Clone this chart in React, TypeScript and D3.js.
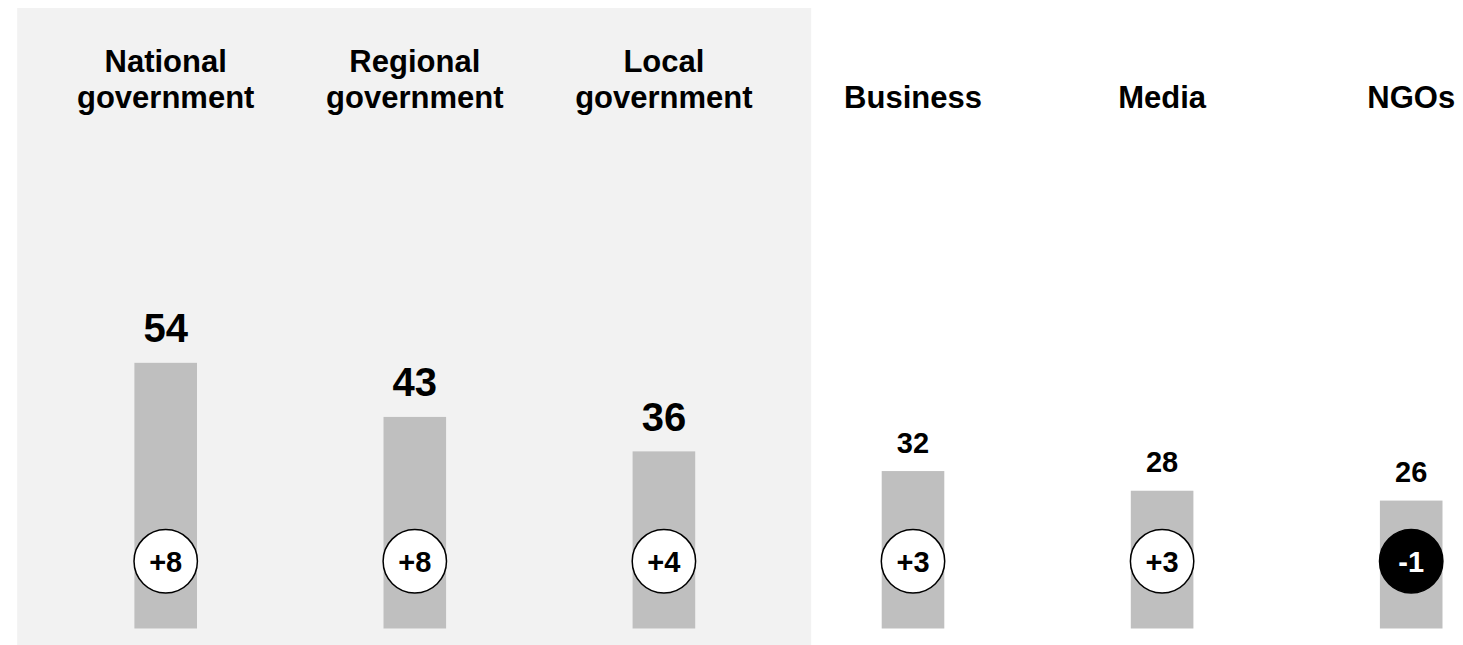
import React from "react";
import * as d3 from "d3";

const categories: string[][] = [
  ["National", "government"],
  ["Regional", "government"],
  ["Local", "government"],
  ["Business"],
  ["Media"],
  ["NGOs"],
];
const values: number[] = [54, 43, 36, 32, 28, 26];
const changes: number[] = [8, 8, 4, 3, 3, -1];
const highlighted: boolean[] = [true, true, true, false, false, false];

const W = 1463;
const H = 645;
const FONT = "'Liberation Sans', Arial, Helvetica, sans-serif";

export default function App() {
  const keys = categories.map((c) => c.join(" "));
  const x = d3.scalePoint<string>().domain(keys).range([165.7, 1411.2]);
  const y = d3.scaleLinear().domain([0, 100]).range([628.5, 136.5]);
  const barW = 62.6;
  const r = 31.7;
  const circleY = y(0) - 67.2;

  const hlKeys = keys.filter((_, i) => highlighted[i]);
  const panelX0 = (x(hlKeys[0]) as number) - 148.5;
  const panelX1 = (x(hlKeys[hlKeys.length - 1]) as number) + 147.3;

  const fmt = (v: number) => (v > 0 ? `+${v}` : `${v}`);

  return (
    <svg
      width={W}
      height={H}
      style={{ position: "absolute", left: 0, top: 0, background: "#ffffff" }}
      fontFamily={FONT}
    >
      <rect x={panelX0} y={8} width={panelX1 - panelX0} height={H - 8} fill="#f2f2f2" />
      {keys.map((k, i) => {
        const cx = x(k) as number;
        const lines = categories[i];
        const baseY = 108.3;
        const lh = 36.6;
        const top = y(values[i]);
        const big = highlighted[i];
        const neg = changes[i] < 0;
        return (
          <g key={k}>
            <text
              textAnchor="middle"
              fontWeight="bold"
              fontSize={31}
              fill="#000"
            >
              {lines.map((ln, j) => (
                <tspan key={j} x={cx} y={baseY - (lines.length - 1 - j) * lh}>
                  {ln}
                </tspan>
              ))}
            </text>
            <rect x={cx - barW / 2} y={top} width={barW} height={y(0) - top} fill="#bfbfbf" />
            <text
              x={cx}
              y={top - (big ? 20.5 : 18.3)}
              textAnchor="middle"
              fontWeight="bold"
              fontSize={big ? 40 : 29}
              fill="#000"
            >
              {values[i]}
            </text>
            <circle
              cx={cx}
              cy={circleY}
              r={r}
              fill={neg ? "#000" : "#fff"}
              stroke="#000"
              strokeWidth={1.5}
            />
            <text
              x={cx}
              y={circleY}
              dy="0.36em"
              textAnchor="middle"
              fontWeight="bold"
              fontSize={29}
              fill={neg ? "#fff" : "#000"}
            >
              {fmt(changes[i])}
            </text>
          </g>
        );
      })}
    </svg>
  );
}
